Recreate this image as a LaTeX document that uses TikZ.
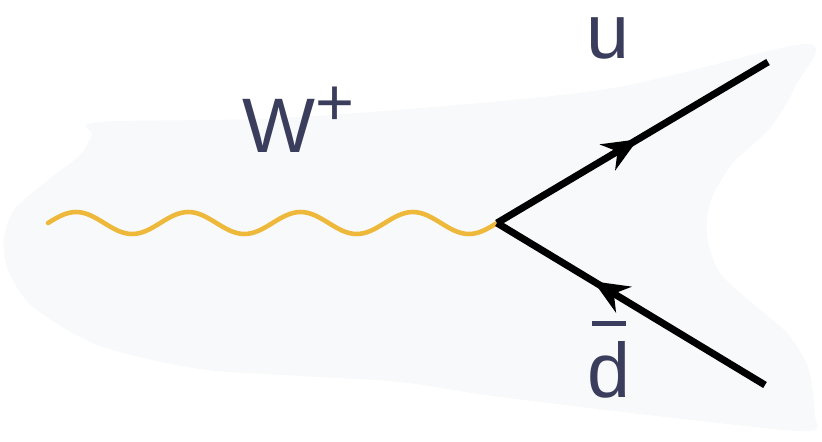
\documentclass[tikz,border=0pt]{standalone}
\usepackage{fontspec}
\setmainfont{Liberation Sans}
\usepackage{tikz}
\usetikzlibrary{arrows.meta, decorations.markings}
\definecolor{blobgray}{RGB}{248, 249, 251}
\definecolor{bosongold}{RGB}{238, 184, 58}
\definecolor{labelnavy}{RGB}{58, 61, 92}

% antiquark label: a bar set above the letter
\newcommand{\qbar}[1]{\leavevmode\vbox{\offinterlineskip\halign{\hfil##\hfil\cr
  \rule{0.45em}{0.055em}\cr\noalign{\kern0.2em}#1\cr}}}

\tikzset{
  fermion/.style={line width=4pt, black, postaction={decorate},
    decoration={markings, mark=at position #1 with {\arrow{Stealth[length=20pt, width=17pt]}}}},
  boson/.style={line width=2.6pt, bosongold, line cap=round},
  partlabel/.style={text=labelnavy, font=\fontsize{44}{44}\selectfont, inner sep=0pt}
}

\begin{document}
\begin{tikzpicture}[x=0.02cm, y=-0.02cm]
  \useasboundingbox (0,0) rectangle (822,441);

  % Background blob
  \fill[blobgray] plot[smooth cycle, tension=0.5] coordinates {
    (100,122) (300,117) (600,90) (805,44) (796,85) (770,128) (733,163)
    (711,200) (707,235) (720,273) (757,307) (787,333) (808,367) (815,415)
    (808,431) (700,421) (500,397) (400,382) (300,376) (200,369) (100,346)
    (33,307) (8,270) (4,240) (14,210) (48,180) (80,155) (92,135)};

  % Vertex and external legs
  \coordinate (vertex) at (497,223);
  \coordinate (wstart) at (48,223);
  \coordinate (uend) at (768,62);
  \coordinate (dend) at (765,385);

  % W boson (four periods)
  \draw[boson] (wstart)
    \foreach \i in {1,...,4} {
      sin ++(28.0625,-11) cos ++(28.0625,11) sin ++(28.0625,11) cos ++(28.0625,-11)
    } -- (vertex);

  % Quark lines
  \draw[fermion=0.52] (vertex) -- (uend);
  \draw[fermion=0.64] (dend) -- (vertex);

  % Labels
  \node[partlabel, anchor=base west] (wlabel) at (242,152) {W\raisebox{15pt}{\fontsize{38}{38}\selectfont +}};
  \node[partlabel, anchor=base] (ulabel) at (608,58) {u};
  \node[partlabel, anchor=base] (dlabel) at (609,397) {\qbar{d}};
\end{tikzpicture}
\end{document}
